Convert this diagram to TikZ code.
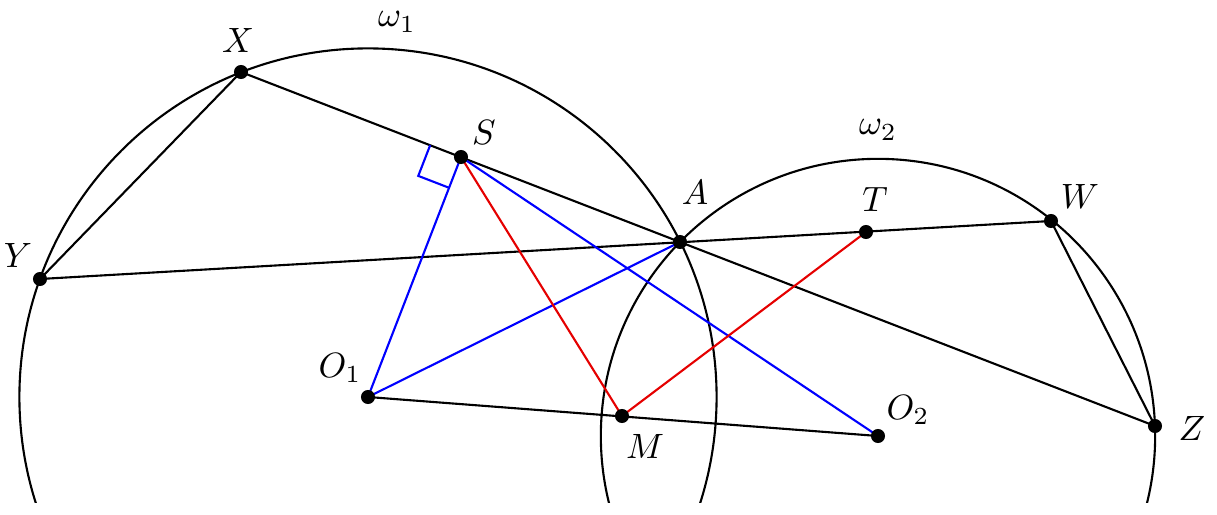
\documentclass[tikz,border=0pt]{standalone}
\usetikzlibrary{calc}
\begin{document}
\begin{tikzpicture}[x=0.01cm,y=-0.01cm,
  dot/.style={circle,fill=black,inner sep=0pt,minimum size=4pt},
  lab/.style={font=\normalsize},
  seg/.style={line width=0.6pt},
  bl/.style={seg,blue},
  rd/.style={seg,red!90!black}]
\useasboundingbox (0,0) rectangle (1217,515);
\coordinate (X) at (241,72); \coordinate (S) at (461,157);
\coordinate (A) at (680,242); \coordinate (T) at (866,232);
\coordinate (W) at (1051,221); \coordinate (Y) at (40,279);
\coordinate (O1) at (368,397); \coordinate (M) at (622,416);
\coordinate (O2) at (878,436); \coordinate (Z) at (1155,426);
\begin{scope}
\clip (0,0) rectangle (1217,502);
\draw[seg] (O1) circle (348.4cm/100);
\draw[seg] (O2) circle (277cm/100);
\end{scope}
\draw[seg] (X)--(Y) (Y)--(W) (X)--(Z) (W)--(Z) (O1)--(O2);
\draw[bl] (S)--(O1) (O1)--(A) (S)--(O2);
\draw[rd] (S)--(M) (M)--(T);
\coordinate (P1) at ($(S)!0.33cm!(X)$);
\coordinate (P3) at ($(S)!0.33cm!(O1)$);
\draw[bl] (P1)--($(P1)+(P3)-(S)$)--(P3);
\foreach \p in {X,S,A,T,W,Y,O1,M,O2,Z} \node[dot] (n\p) at (\p) {};
\node[lab] (lX) at (238,40) {$X$};
\node[lab] (lS) at (484,132) {$S$};
\node[lab] (lA) at (695,192) {$A$};
\node[lab] (lT) at (875,199) {$T$};
\node[lab] (lW) at (1080,196) {$W$};
\node[lab] (lY) at (18,255) {$Y$};
\node[lab] (lO1) at (340,368) {$O_1$};
\node[lab] (lM) at (645,446) {$M$};
\node[lab] (lO2) at (908,410) {$O_2$};
\node[lab] (lZ) at (1192,428) {$Z$};
\node[lab] (w1) at (397,22) {$\omega_1$};
\node[lab] (w2) at (878,130) {$\omega_2$};
\end{tikzpicture}
\end{document}
